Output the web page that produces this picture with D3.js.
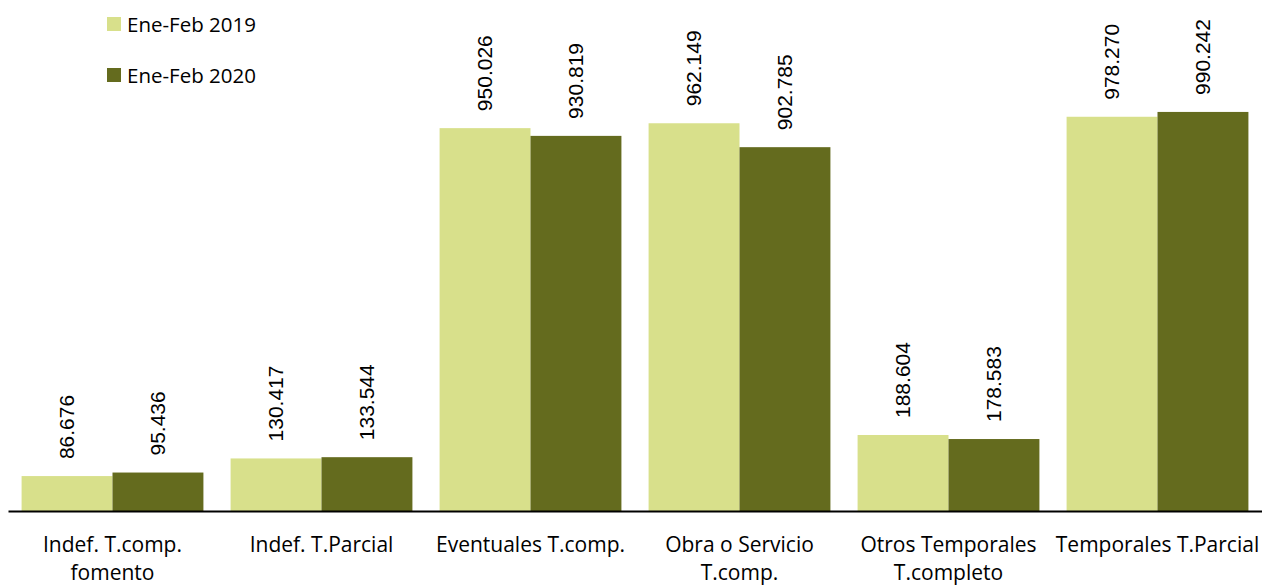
<!DOCTYPE html>
<html><head><meta charset="utf-8">
<script src="https://cdn.jsdelivr.net/npm/d3@7/dist/d3.min.js"></script>
<style>body{margin:0;background:#fff}svg{display:block}</style>
</head><body><svg id="c" width="1262" height="586"></svg>
<script>
const categories = [["Indef. T.comp.","fomento"],["Indef. T.Parcial"],["Eventuales T.comp."],["Obra o Servicio","T.comp."],["Otros Temporales","T.completo"],["Temporales T.Parcial"]];
const seriesNames = ["Ene-Feb 2019","Ene-Feb 2020"];
const values2019 = [86676,130417,950026,962149,188604,978270];
const values2020 = [95436,133544,930819,902785,178583,990242];
const valueLabels2019 = ["86.676","130.417","950.026","962.149","188.604","978.270"];
const valueLabels2020 = ["95.436","133.544","930.819","902.785","178.583","990.242"];
const colors = ["#d8e08b","#646b1e"];

const svg = d3.select("#c");
const font = "'Open Sans', sans-serif";
const x0 = d3.scaleBand().domain(d3.range(categories.length)).range([8,1262]).paddingInner(0.13).paddingOuter(0.065);
const x1 = d3.scaleBand().domain([0,1]).range([0,x0.bandwidth()]);
const y = d3.scaleLinear().domain([0,1000000]).range([511,108]);
const series = [values2019, values2020];
const labels = [valueLabels2019, valueLabels2020];

const g = svg.append("g");
series.forEach((vals, s) => {
  g.selectAll(".b"+s).data(vals).join("rect")
    .attr("x",(d,i)=>x0(i)+x1(s)).attr("y",d=>y(d))
    .attr("width",x1.bandwidth()).attr("height",d=>y(0)-y(d))
    .attr("fill",colors[s]);
  g.selectAll(".l"+s).data(vals).join("text")
    .attr("transform",(d,i)=>`translate(${x0(i)+x1(s)+x1.bandwidth()/2+7},${y(d)-17}) rotate(-90)`)
    .attr("font-family","'Liberation Sans', Arial, sans-serif").attr("font-size",21)
    .attr("fill","#000")
    .text((d,i)=>labels[s][i]);
});

// axis
const axis = d3.axisBottom(x0).tickSize(0).tickFormat("");
const ax = svg.append("g").attr("transform","translate(0,511)").call(axis);
ax.select(".domain").attr("stroke","#000").attr("stroke-width",2);

categories.forEach((lines,i)=>{
  const t = svg.append("text").attr("text-anchor","middle")
    .attr("font-family",font).attr("font-size",21).attr("fill","#000");
  lines.forEach((ln,j)=>{
    t.append("tspan").attr("x",x0(i)+x0.bandwidth()/2).attr("y",552+j*28).text(ln);
  });
});

// legend
seriesNames.forEach((n,s)=>{
  const ly = 17 + s*51;
  svg.append("rect").attr("x",107).attr("y",ly).attr("width",14).attr("height",14).attr("fill",colors[s]);
  svg.append("text").attr("x",127).attr("y",ly+15).attr("font-family",font).attr("font-size",20.5).attr("fill","#000").text(n);
});
</script></body></html>
